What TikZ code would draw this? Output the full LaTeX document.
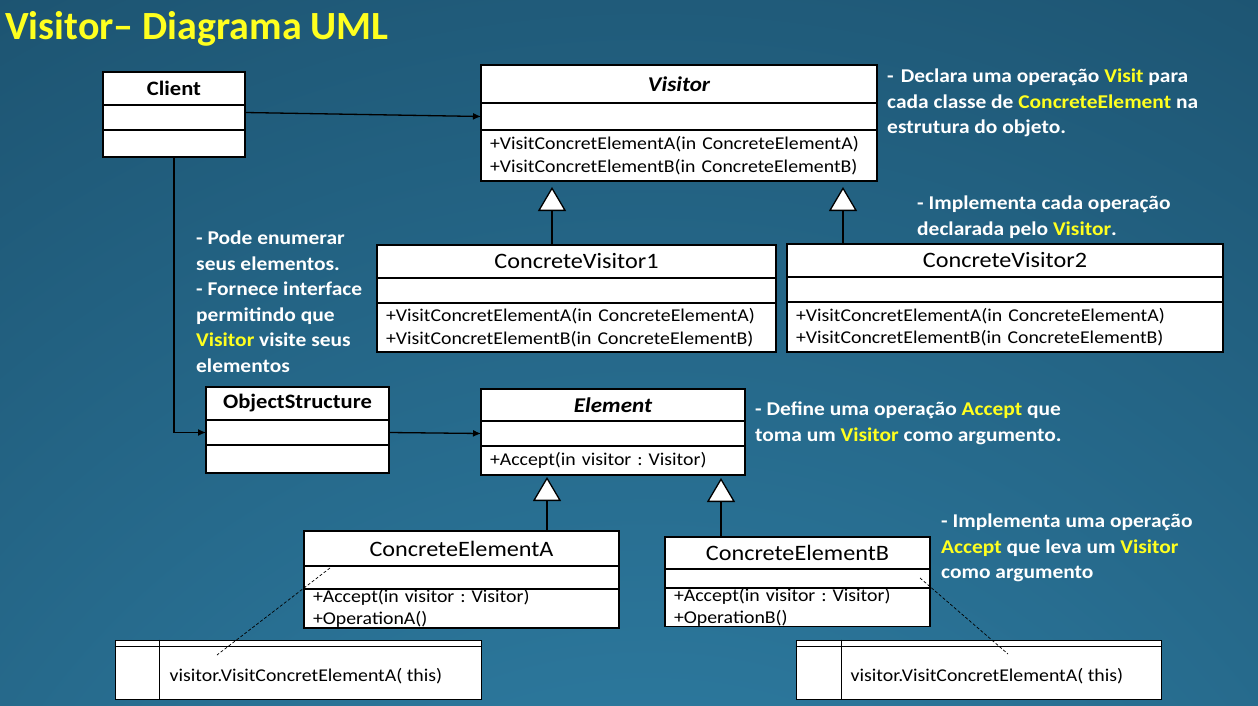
\documentclass[tikz,border=0pt]{standalone}
\usepackage{fontspec}
\setmainfont{Carlito}[FakeStretch=1.1]
\newfontfamily\titlefont{Carlito}
\usetikzlibrary{positioning,arrows.meta}
\definecolor{bgdark}{HTML}{0B2A3F}
\definecolor{bglight}{HTML}{3388B0}
\definecolor{hlyellow}{HTML}{FFFF1F}
\newcommand{\yel}[1]{\textcolor{hlyellow}{#1}}
\frenchspacing

\begin{document}
\begin{tikzpicture}[x=1pt,y=-1pt,
    part/.style={draw, fill=white, line width=1.1pt, inner sep=0pt, outer sep=0pt},
    hdr/.style={part, font=\fontsize{22}{24}\selectfont},
    abstr/.style={part, font=\bfseries\itshape\fontsize{21}{24}\selectfont},
    plain/.style={part, font=\bfseries\fontsize{20.5}{22}\selectfont},
    ops/.style={part, align=left, inner xsep=9pt, font=\fontsize{18}{22.5}\selectfont},
    note/.style={draw, fill=white, line width=1pt},
    annot/.style={anchor=north west, inner sep=0pt, align=left, text=white,
                  font=\bfseries\fontsize{19.5}{25.5}\selectfont},
    assoc/.style={-{Latex[length=8pt,width=7pt]}, line width=1.3pt},
    inherit/.style={-{Triangle[length=24pt,width=28pt,fill=white]}, line width=1.3pt}]

  % background
  \fill[bgdark] (0,0) rectangle (1258,706);
  \begin{scope}
    \clip (0,0) rectangle (1258,706);
    \shade[inner color=bglight, outer color=bgdark] (650,1150) circle (2400);
  \end{scope}
  \useasboundingbox (0,0) rectangle (1258,706);

  \node[anchor=base west, inner sep=0pt, text=hlyellow,
        font=\titlefont\bfseries\fontsize{40}{40}\selectfont] (title) at (5,40) {Visitor– Diagrama UML};

  % Client
  \node[plain, minimum width=142, minimum height=33] (client) at (174,88.5) {Client};
  \node[part, minimum width=142, minimum height=25, below=0pt of client] (client-a) {};
  \node[part, minimum width=142, minimum height=27, below=0pt of client-a] (client-o) {};

  % Visitor
  \node[abstr, minimum width=396, minimum height=38] (visitor) at (679,84) {Visitor};
  \node[part, minimum width=396, minimum height=27, below=0pt of visitor] (visitor-a) {};
  \node[ops, text width=378, minimum height=51, below=0pt of visitor-a] (visitor-o)
       {+VisitConcretElementA(in ConcreteElementA)\\+VisitConcretElementB(in ConcreteElementB)};

  % ConcreteVisitor1
  \node[hdr, minimum width=399, minimum height=33] (cv1) at (576.5,261.5) {ConcreteVisitor1};
  \node[part, minimum width=399, minimum height=25, below=0pt of cv1] (cv1-a) {};
  \node[ops, text width=381, minimum height=49, below=0pt of cv1-a] (cv1-o)
       {+VisitConcretElementA(in ConcreteElementA)\\+VisitConcretElementB(in ConcreteElementB)};

  % ConcreteVisitor2
  \node[hdr, minimum width=436, minimum height=33] (cv2) at (1005,260.5) {ConcreteVisitor2};
  \node[part, minimum width=436, minimum height=25, below=0pt of cv2] (cv2-a) {};
  \node[ops, text width=418, minimum height=50, below=0pt of cv2-a] (cv2-o)
       {+VisitConcretElementA(in ConcreteElementA)\\+VisitConcretElementB(in ConcreteElementB)};

  % ObjectStructure
  \node[plain, minimum width=183, minimum height=33] (objs) at (297.5,403.5) {ObjectStructure};
  \node[part, minimum width=183, minimum height=25, below=0pt of objs] (objs-a) {};
  \node[part, minimum width=183, minimum height=28, below=0pt of objs-a] (objs-o) {};

  % Element
  \node[abstr, minimum width=264, minimum height=32] (elem) at (613,405) {Element};
  \node[part, minimum width=264, minimum height=25, below=0pt of elem] (elem-a) {};
  \node[ops, text width=246, minimum height=29, below=0pt of elem-a] (elem-o)
       {+Accept(in visitor : Visitor)};

  % ConcreteElementA
  \node[hdr, minimum width=315, minimum height=35] (ceA) at (461.5,548.5) {ConcreteElementA};
  \node[part, minimum width=315, minimum height=23, below=0pt of ceA] (ceA-a) {};
  \node[ops, text width=297, minimum height=39, below=0pt of ceA-a] (ceA-o)
       {+Accept(in visitor : Visitor)\\+OperationA()};

  % ConcreteElementB
  \node[hdr, minimum width=265, minimum height=32] (ceB) at (797.5,553) {ConcreteElementB};
  \node[part, minimum width=265, minimum height=19, below=0pt of ceB] (ceB-a) {};
  \node[ops, text width=247, minimum height=37, below=0pt of ceB-a] (ceB-o)
       {+Accept(in visitor : Visitor)\\+OperationB()};

  % notes
  \node[note, minimum width=366, minimum height=59] (noteA) at (298,669.5) {};
  \draw ([yshift=-7]noteA.north west) -- ([yshift=-7]noteA.north east);
  \draw ([xshift=45]noteA.north west) -- ([xshift=45]noteA.south west);
  \node[anchor=west, inner sep=0pt, font=\fontsize{18}{20}\selectfont] (noteA-txt)
       at ([xshift=55,yshift=-6.5]noteA.west) {visitor.VisitConcretElementA( this)};

  \node[note, minimum width=365, minimum height=59] (noteB) at (978.5,669.5) {};
  \draw ([yshift=-7]noteB.north west) -- ([yshift=-7]noteB.north east);
  \draw ([xshift=46]noteB.north west) -- ([xshift=46]noteB.south west);
  \node[anchor=west, inner sep=0pt, font=\fontsize{18}{20}\selectfont] (noteB-txt)
       at ([xshift=55,yshift=-6.5]noteB.west) {visitor.VisitConcretElementA( this)};

  \coordinate (ceA-pin) at (330,568);
  \coordinate (noteA-pin) at (217,655);
  \coordinate (ceB-pin) at (920,578);
  \coordinate (noteB-pin) at (1008,654);
  \draw[dashed, line width=0.7pt, dash pattern=on 3pt off 2pt] (ceA-pin) -- (noteA-pin);
  \draw[dashed, line width=0.7pt, dash pattern=on 3pt off 2pt] (ceB-pin) -- (noteB-pin);

  % associations
  \draw[assoc] ([yshift=5]client-a.east) -- (visitor-a.west);
  \draw[assoc] (client-o.south) |- (objs-a.west);
  \draw[assoc] (objs-a.east) -- (elem-a.west);

  % generalisations
  \coordinate (cv1-gen) at ([xshift=175]cv1.north west);
  \coordinate (cv2-gen) at ([xshift=56]cv2.north west);
  \coordinate (ceA-gen) at ([xshift=243]ceA.north west);
  \coordinate (ceB-gen) at ([xshift=56]ceB.north west);
  \draw[inherit, shorten >=6pt] (cv1-gen) -- (cv1-gen |- visitor-o.south);
  \draw[inherit, shorten >=6pt] (cv2-gen) -- (cv2-gen |- visitor-o.south);
  \draw[inherit, shorten >=2pt] (ceA-gen) -- (ceA-gen |- elem-o.south);
  \draw[inherit, shorten >=3pt] (ceB-gen) -- (ceB-gen |- elem-o.south);

  % annotations
  \node[annot] (visitor-txt) at (887,69)
       {-\hspace{7pt}Declara uma operação \yel{Visit} para\\cada classe de \yel{ConcreteElement} na\\estrutura do objeto.};
  \node[annot] (cv-txt) at (917,196)
       {- Implementa cada operação\\declarada pelo \yel{Visitor}.};
  \node[annot] (objs-txt) at (196,231)
       {- Pode enumerar\\seus elementos.\\- Fornece interface\\permitindo que\\\yel{Visitor} visite seus\\elementos};
  \node[annot] (elem-txt) at (755,402)
       {- Define uma operação \yel{Accept} que\\toma um \yel{Visitor} como argumento.};
  \node[annot] (ce-txt) at (941,514)
       {- Implementa uma operação\\\yel{Accept} que leva um \yel{Visitor}\\como argumento};
\end{tikzpicture}
\end{document}
